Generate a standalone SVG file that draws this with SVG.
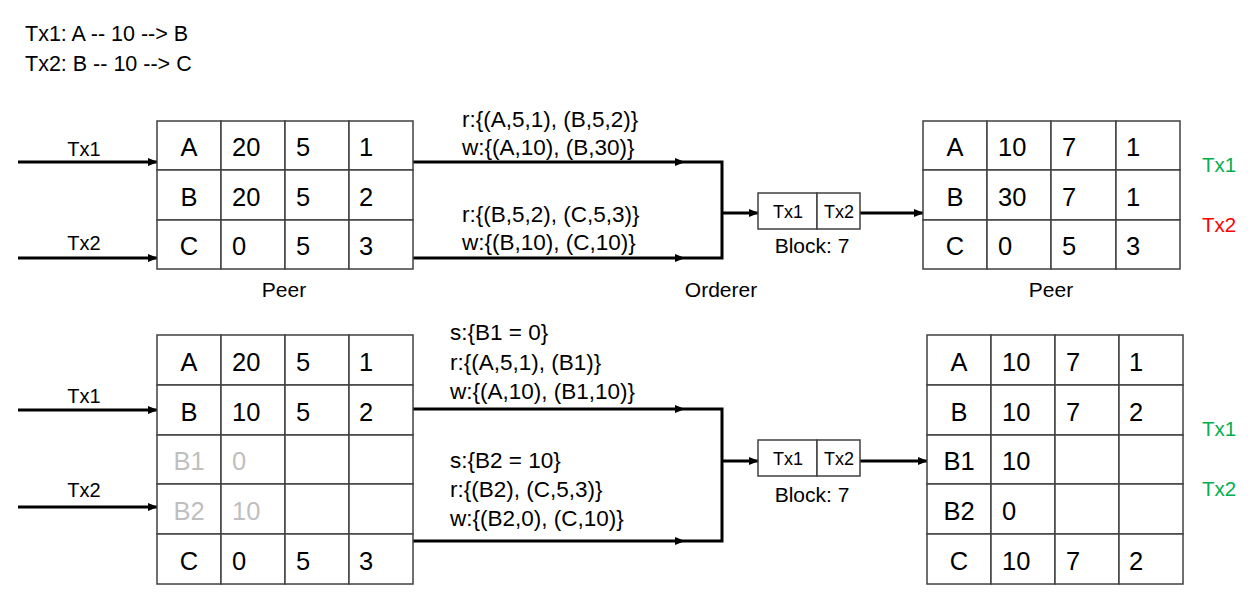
<svg xmlns="http://www.w3.org/2000/svg" width="1255" height="605" viewBox="0 0 1255 605">
<style>
text{font-family:"Liberation Sans",Arial,sans-serif;fill:#000}
.cell{fill:#fff;stroke:#404040;stroke-width:1.5}
.ct{font-size:25.5px}
.cc{font-size:25.5px;text-anchor:middle}
.gray{fill:#bfbfbf}
.lbl{font-size:20px;text-anchor:middle}
.cap{font-size:21px;text-anchor:middle}
.rw{font-size:22.5px}
.blk{font-size:18px;text-anchor:middle}
.hdr{font-size:21.5px}
.conn{fill:none;stroke:#000;stroke-width:3}
.green{fill:#00b050;font-size:20.5px}
.red{fill:#ff0000;font-size:20.5px}
</style>
<defs>
<marker id="ah" markerUnits="userSpaceOnUse" markerWidth="10" markerHeight="8" refX="9" refY="4" orient="auto">
<path d="M0,0 L10,4 L0,8 z" fill="#000"/>
</marker>
</defs>

<g id="header">
<text class="hdr" x="25" y="41">Tx1: A -- 10 --&gt; B</text>
<text class="hdr" x="25" y="71">Tx2: B -- 10 --&gt; C</text>
</g>

<g id="connectors">
<path class="conn" d="M18,162 H157" marker-end="url(#ah)"/>
<path class="conn" d="M18,258 H157" marker-end="url(#ah)"/>
<path class="conn" d="M413,162 H684" marker-end="url(#ah)"/>
<path class="conn" d="M413,258 H684" marker-end="url(#ah)"/>
<path class="conn" d="M684,162 H722 V258 H684"/>
<path class="conn" d="M722,213 H758" marker-end="url(#ah)"/>
<path class="conn" d="M860,213 H923" marker-end="url(#ah)"/>
<path class="conn" d="M18,410 H157" marker-end="url(#ah)"/>
<path class="conn" d="M18,507 H157" marker-end="url(#ah)"/>
<path class="conn" d="M413,409 H684" marker-end="url(#ah)"/>
<path class="conn" d="M413,541 H684" marker-end="url(#ah)"/>
<path class="conn" d="M684,409 H722 V541 H684"/>
<path class="conn" d="M722,461 H758" marker-end="url(#ah)"/>
<path class="conn" d="M860,461 H927" marker-end="url(#ah)"/>
</g>

<g id="connector-labels">
<text class="lbl" x="84" y="156">Tx1</text>
<text class="lbl" x="84" y="250">Tx2</text>
<text class="lbl" x="84" y="403">Tx1</text>
<text class="lbl" x="84" y="497">Tx2</text>
<text class="rw" x="462" y="127">r:{(A,5,1), (B,5,2)}</text>
<text class="rw" x="462" y="155">w:{(A,10), (B,30)}</text>
<text class="rw" x="462" y="222">r:{(B,5,2), (C,5,3)}</text>
<text class="rw" x="462" y="250">w:{(B,10), (C,10)}</text>
<text class="rw" x="450" y="340">s:{B1 = 0}</text>
<text class="rw" x="450" y="370">r:{(A,5,1), (B1)}</text>
<text class="rw" x="450" y="399">w:{(A,10), (B1,10)}</text>
<text class="rw" x="450" y="468">s:{B2 = 10}</text>
<text class="rw" x="450" y="497">r:{(B2), (C,5,3)}</text>
<text class="rw" x="450" y="526">w:{(B2,0), (C,10)}</text>
</g>

<g id="peer-top-left">
<rect class="cell" x="157" y="121" width="64" height="49"/><rect class="cell" x="221" y="121" width="64" height="49"/><rect class="cell" x="285" y="121" width="64" height="49"/><rect class="cell" x="349" y="121" width="64" height="49"/>
<rect class="cell" x="157" y="170" width="64" height="50"/><rect class="cell" x="221" y="170" width="64" height="50"/><rect class="cell" x="285" y="170" width="64" height="50"/><rect class="cell" x="349" y="170" width="64" height="50"/>
<rect class="cell" x="157" y="220" width="64" height="49"/><rect class="cell" x="221" y="220" width="64" height="49"/><rect class="cell" x="285" y="220" width="64" height="49"/><rect class="cell" x="349" y="220" width="64" height="49"/>
<text class="cc" x="189" y="156">A</text><text class="ct" x="232" y="156">20</text><text class="ct" x="296" y="156">5</text><text class="ct" x="359" y="156">1</text>
<text class="cc" x="189" y="206">B</text><text class="ct" x="232" y="206">20</text><text class="ct" x="296" y="206">5</text><text class="ct" x="359" y="206">2</text>
<text class="cc" x="189" y="255">C</text><text class="ct" x="232" y="255">0</text><text class="ct" x="296" y="255">5</text><text class="ct" x="359" y="255">3</text>
<text class="cap" x="284" y="297">Peer</text>
</g>

<g id="block-top">
<rect class="cell" x="758" y="193" width="59" height="36"/><rect class="cell" x="817" y="193" width="43" height="36"/>
<text class="blk" x="788" y="218">Tx1</text><text class="blk" x="839" y="218">Tx2</text>
<text class="cap" x="812" y="253">Block: 7</text>
</g>
<g id="orderer-label"><text class="cap" x="721" y="297">Orderer</text></g>

<g id="peer-top-right">
<rect class="cell" x="923" y="121" width="64" height="49"/><rect class="cell" x="987" y="121" width="64" height="49"/><rect class="cell" x="1051" y="121" width="65" height="49"/><rect class="cell" x="1116" y="121" width="64" height="49"/>
<rect class="cell" x="923" y="170" width="64" height="50"/><rect class="cell" x="987" y="170" width="64" height="50"/><rect class="cell" x="1051" y="170" width="65" height="50"/><rect class="cell" x="1116" y="170" width="64" height="50"/>
<rect class="cell" x="923" y="220" width="64" height="49"/><rect class="cell" x="987" y="220" width="64" height="49"/><rect class="cell" x="1051" y="220" width="65" height="49"/><rect class="cell" x="1116" y="220" width="64" height="49"/>
<text class="cc" x="955" y="156">A</text><text class="ct" x="998" y="156">10</text><text class="ct" x="1062" y="156">7</text><text class="ct" x="1126" y="156">1</text>
<text class="cc" x="955" y="206">B</text><text class="ct" x="998" y="206">30</text><text class="ct" x="1062" y="206">7</text><text class="ct" x="1126" y="206">1</text>
<text class="cc" x="955" y="255">C</text><text class="ct" x="998" y="255">0</text><text class="ct" x="1062" y="255">5</text><text class="ct" x="1126" y="255">3</text>
<text class="cap" x="1051" y="297">Peer</text>
<text class="green" x="1202" y="172">Tx1</text>
<text class="red" x="1202" y="232">Tx2</text>
</g>

<g id="peer-bottom-left">
<rect class="cell" x="157" y="335" width="64" height="50"/><rect class="cell" x="221" y="335" width="64" height="50"/><rect class="cell" x="285" y="335" width="64" height="50"/><rect class="cell" x="349" y="335" width="64" height="50"/>
<rect class="cell" x="157" y="385" width="64" height="50"/><rect class="cell" x="221" y="385" width="64" height="50"/><rect class="cell" x="285" y="385" width="64" height="50"/><rect class="cell" x="349" y="385" width="64" height="50"/>
<rect class="cell" x="157" y="435" width="64" height="49"/><rect class="cell" x="221" y="435" width="64" height="49"/><rect class="cell" x="285" y="435" width="64" height="49"/><rect class="cell" x="349" y="435" width="64" height="49"/>
<rect class="cell" x="157" y="484" width="64" height="50"/><rect class="cell" x="221" y="484" width="64" height="50"/><rect class="cell" x="285" y="484" width="64" height="50"/><rect class="cell" x="349" y="484" width="64" height="50"/>
<rect class="cell" x="157" y="534" width="64" height="50"/><rect class="cell" x="221" y="534" width="64" height="50"/><rect class="cell" x="285" y="534" width="64" height="50"/><rect class="cell" x="349" y="534" width="64" height="50"/>
<text class="cc" x="189" y="371">A</text><text class="ct" x="232" y="371">20</text><text class="ct" x="296" y="371">5</text><text class="ct" x="359" y="371">1</text>
<text class="cc" x="189" y="421">B</text><text class="ct" x="232" y="421">10</text><text class="ct" x="296" y="421">5</text><text class="ct" x="359" y="421">2</text>
<text class="cc gray" x="189" y="470">B1</text><text class="ct gray" x="232" y="470">0</text>
<text class="cc gray" x="189" y="520">B2</text><text class="ct gray" x="232" y="520">10</text>
<text class="cc" x="189" y="570">C</text><text class="ct" x="232" y="570">0</text><text class="ct" x="296" y="570">5</text><text class="ct" x="359" y="570">3</text>
</g>

<g id="block-bottom">
<rect class="cell" x="758" y="440" width="59" height="36"/><rect class="cell" x="817" y="440" width="43" height="36"/>
<text class="blk" x="788" y="465">Tx1</text><text class="blk" x="839" y="465">Tx2</text>
<text class="cap" x="812" y="502">Block: 7</text>
</g>

<g id="peer-bottom-right">
<rect class="cell" x="927" y="335" width="64" height="50"/><rect class="cell" x="991" y="335" width="64" height="50"/><rect class="cell" x="1055" y="335" width="64" height="50"/><rect class="cell" x="1119" y="335" width="64" height="50"/>
<rect class="cell" x="927" y="385" width="64" height="50"/><rect class="cell" x="991" y="385" width="64" height="50"/><rect class="cell" x="1055" y="385" width="64" height="50"/><rect class="cell" x="1119" y="385" width="64" height="50"/>
<rect class="cell" x="927" y="435" width="64" height="49"/><rect class="cell" x="991" y="435" width="64" height="49"/><rect class="cell" x="1055" y="435" width="64" height="49"/><rect class="cell" x="1119" y="435" width="64" height="49"/>
<rect class="cell" x="927" y="484" width="64" height="50"/><rect class="cell" x="991" y="484" width="64" height="50"/><rect class="cell" x="1055" y="484" width="64" height="50"/><rect class="cell" x="1119" y="484" width="64" height="50"/>
<rect class="cell" x="927" y="534" width="64" height="50"/><rect class="cell" x="991" y="534" width="64" height="50"/><rect class="cell" x="1055" y="534" width="64" height="50"/><rect class="cell" x="1119" y="534" width="64" height="50"/>
<text class="cc" x="959" y="371">A</text><text class="ct" x="1002" y="371">10</text><text class="ct" x="1066" y="371">7</text><text class="ct" x="1129" y="371">1</text>
<text class="cc" x="959" y="421">B</text><text class="ct" x="1002" y="421">10</text><text class="ct" x="1066" y="421">7</text><text class="ct" x="1129" y="421">2</text>
<text class="cc" x="959" y="470">B1</text><text class="ct" x="1002" y="470">10</text>
<text class="cc" x="959" y="520">B2</text><text class="ct" x="1002" y="520">0</text>
<text class="cc" x="959" y="570">C</text><text class="ct" x="1002" y="570">10</text><text class="ct" x="1066" y="570">7</text><text class="ct" x="1129" y="570">2</text>
<text class="green" x="1202" y="436">Tx1</text>
<text class="green" x="1202" y="496">Tx2</text>
</g>
</svg>
